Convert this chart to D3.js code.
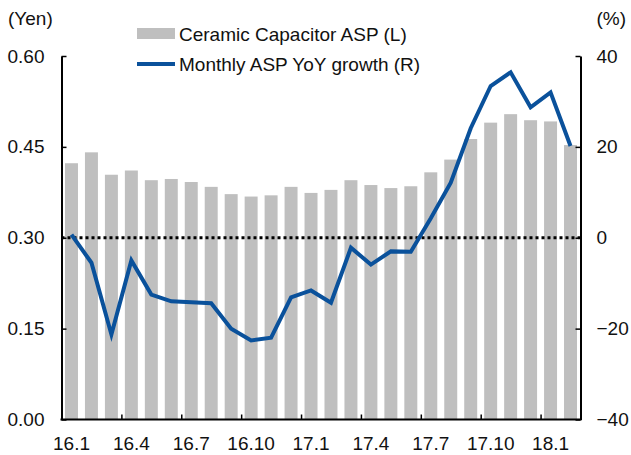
<!DOCTYPE html>
<html>
<head>
<meta charset="utf-8">
<script src="https://cdn.jsdelivr.net/npm/d3@7"></script>
<style>
  body { margin: 0; background: #fff; }
  svg { display: block; font-family: "Liberation Sans", Arial, sans-serif; }
</style>
</head>
<body>
<div id="chart"></div>
<script>
// months 16.1 .. 18.2
var months = ["16.1","16.2","16.3","16.4","16.5","16.6","16.7","16.8","16.9","16.10","16.11","16.12",
              "17.1","17.2","17.3","17.4","17.5","17.6","17.7","17.8","17.9","17.10","17.11","17.12",
              "18.1","18.2"];
var aspYen = [0.423, 0.441, 0.404, 0.411, 0.395, 0.397, 0.392, 0.384, 0.372, 0.368, 0.370, 0.384,
              0.374, 0.379, 0.395, 0.387, 0.382, 0.385, 0.408, 0.429, 0.463, 0.490, 0.504, 0.494,
              0.492, 0.453];
var yoyPct = [0.7, -5.5, -21.3, -5.0, -12.5, -14.0, -14.2, -14.4, -20.0, -22.6, -22.0, -13.1,
              -11.6, -14.3, -2.2, -5.9, -3.0, -3.1, 4.3, 12.1, 24.1, 33.4, 36.4, 28.7,
              32.0, 20.2];
var xLabels = ["16.1","16.4","16.7","16.10","17.1","17.4","17.7","17.10","18.1"];
var leftTicks = [0, 0.15, 0.30, 0.45, 0.60];
var rightTicks = [-40, -20, 0, 20, 40];

var W = 631, H = 455;
var x0 = 61.5, x1 = 580.5, yTop = 56, yBot = 419.5;

var svg = d3.select("#chart").append("svg")
    .attr("width", W)
    .attr("height", H);

var x = d3.scaleBand()
    .domain(months)
    .range([x0, x1])
    .paddingInner(0.35)
    .paddingOuter(0.175);

var xi = d3.scaleLinear().domain([0, months.length]).range([x0, x1]);

var yL = d3.scaleLinear().domain([0, 0.6]).range([yBot, yTop]);
var yR = d3.scaleLinear().domain([-40, 40]).range([yBot, yTop]);

// bars
svg.selectAll(".bar")
    .data(aspYen)
    .enter().append("rect")
    .attr("class", "bar")
    .attr("x", function(d, i) { return x(months[i]); })
    .attr("width", x.bandwidth())
    .attr("y", function(d) { return yL(d); })
    .attr("height", function(d) { return yBot - yL(d); })
    .attr("fill", "#bfbfbf");

// zero line (right axis)
svg.append("line")
    .attr("x1", x0).attr("x2", x1)
    .attr("y1", yR(0)).attr("y2", yR(0))
    .attr("stroke", "#000")
    .attr("stroke-width", 3)
    .attr("stroke-dasharray", "3,3");

// yoy line
var line = d3.line()
    .x(function(d, i) { return x(months[i]) + x.bandwidth() / 2; })
    .y(function(d) { return yR(d); });

svg.append("path")
    .datum(yoyPct)
    .attr("d", line)
    .attr("fill", "none")
    .attr("stroke", "#0a519b")
    .attr("stroke-width", 4)
    .attr("stroke-linejoin", "miter");

// axes
var axisL = svg.append("g")
    .attr("transform", "translate(" + x0 + ",0)")
    .call(d3.axisLeft(yL).tickValues(leftTicks).tickFormat(d3.format(".2f"))
        .tickSizeInner(-5).tickSizeOuter(0).tickPadding(17));

var axisR = svg.append("g")
    .attr("transform", "translate(" + x1 + ",0)")
    .call(d3.axisRight(yR).tickValues(rightTicks).tickFormat(d3.format("d"))
        .tickSizeInner(-5).tickSizeOuter(0).tickPadding(16));

var axisB = svg.append("g")
    .attr("transform", "translate(0," + yBot + ")")
    .call(d3.axisBottom(x).tickValues(xLabels).tickSize(0).tickPadding(17));

var tickB = svg.append("g")
    .attr("transform", "translate(0," + yBot + ")")
    .call(d3.axisBottom(xi).tickValues([3, 6, 9, 12, 15, 18, 21, 24]).tickFormat("")
        .tickSizeInner(-5).tickSizeOuter(0));

[axisL, axisR, axisB, tickB].forEach(function(g) {
    g.select(".domain").attr("stroke", "#000").attr("stroke-width", 2);
    g.selectAll(".tick line").attr("stroke", "#000").attr("stroke-width", 1.5);
    g.selectAll("text").attr("font-size", 19).attr("fill", "#111")
        .attr("font-family", "'Liberation Sans', Arial, sans-serif");
});
axisB.select(".domain").remove();
tickB.select(".domain").attr("d", "M" + (x0 - 1) + ",0H" + (x1 + 1));

// unit labels
svg.append("text").attr("x", 8).attr("y", 25)
    .attr("font-size", 19).attr("fill", "#111").text("(Yen)");
svg.append("text").attr("x", 626).attr("y", 25).attr("text-anchor", "end")
    .attr("font-size", 19).attr("fill", "#111").text("(%)");

// legend
var leg = svg.append("g");
leg.append("rect").attr("x", 137).attr("y", 28).attr("width", 38).attr("height", 11)
    .attr("fill", "#bfbfbf");
leg.append("text").attr("x", 179).attr("y", 41).attr("font-size", 19).attr("fill", "#111")
    .text("Ceramic Capacitor ASP (L)");
leg.append("line").attr("x1", 137).attr("x2", 175).attr("y1", 64).attr("y2", 64)
    .attr("stroke", "#0a519b").attr("stroke-width", 4);
leg.append("text").attr("x", 179).attr("y", 71).attr("font-size", 19).attr("fill", "#111")
    .text("Monthly ASP YoY growth (R)");
</script>
</body>
</html>
